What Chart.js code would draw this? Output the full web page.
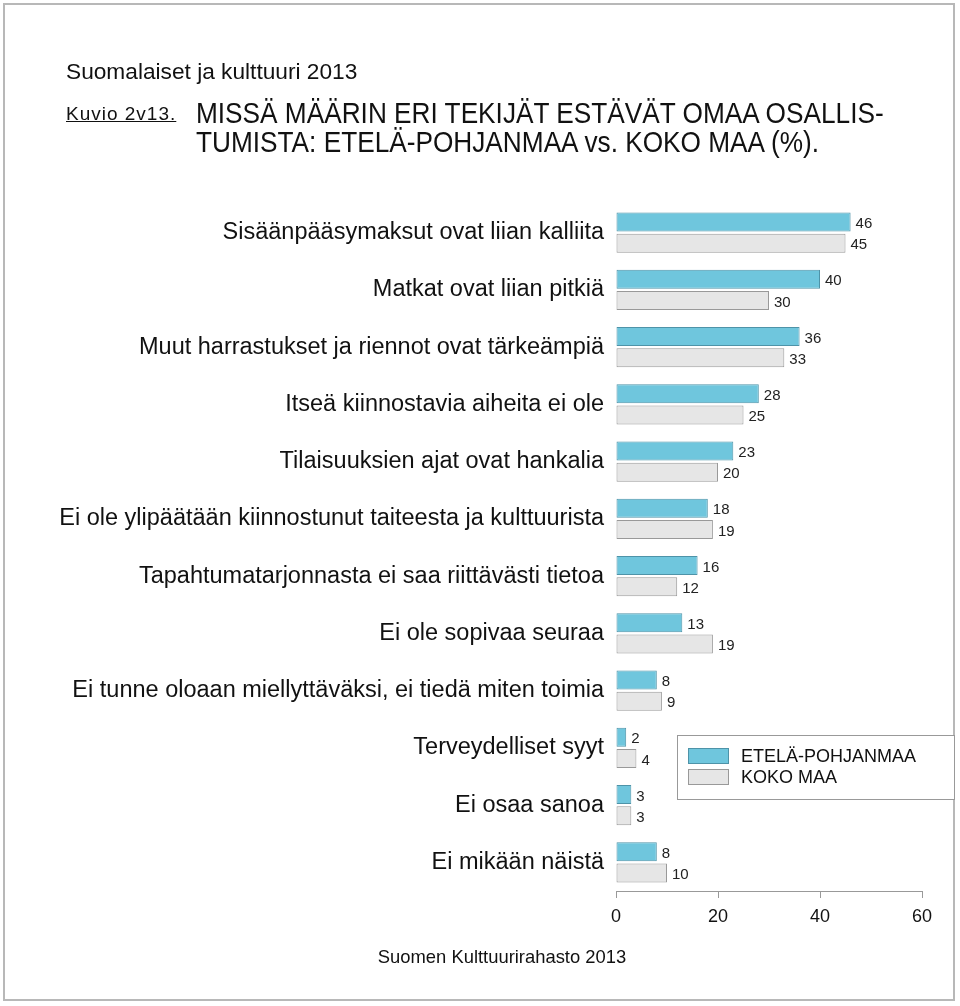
<!DOCTYPE html>
<html>
<head>
<meta charset="utf-8">
<script src="https://cdn.jsdelivr.net/npm/chart.js@4"></script>
<style>
  html, body { margin: 0; padding: 0; background: #fff; }
  #wrap { position: relative; width: 960px; height: 1006px; overflow: hidden; }
  #frame { position: absolute; left: 3px; top: 3px; width: 952px; height: 998px; border: 2px solid #b8b8b8; box-sizing: border-box; }
  canvas { position: absolute; left: 0; top: 0; }
  .t { position: absolute; font-family: "Liberation Sans", Arial, sans-serif; color: #111; white-space: nowrap; transform-origin: 0 0; }
  #sub { left: 66px; top: 58px; font-size: 22.7px; }
  #kuvio { left: 66px; top: 103px; font-size: 19px; letter-spacing: 1px; text-decoration: underline; }
  #title { left: 196px; top: 99px; font-size: 29px; line-height: 28.5px; transform: scaleX(0.904); }
  #source { left: 0; width: 1004px; text-align: center; top: 946px; font-size: 18.4px; }
  #legend { position: absolute; left: 677px; top: 735px; width: 278px; height: 65px; border: 1px solid #999; box-sizing: border-box; background: #fff;
            font-family: "Liberation Sans", Arial, sans-serif; font-size: 18px; color: #111; }
  .li { position: absolute; left: 10px; height: 16px; line-height: 16px; }
  .sw { display: inline-block; width: 41px; height: 16px; vertical-align: top; margin-right: 12px; box-sizing: border-box; }
</style>
</head>
<body>
<div id="wrap">
  <canvas id="chart" width="960" height="1006"></canvas>
  <div id="frame"></div>
  <div class="t" id="sub">Suomalaiset ja kulttuuri 2013</div>
  <div class="t" id="kuvio">Kuvio 2v13.</div>
  <div class="t" id="title">MISSÄ MÄÄRIN ERI TEKIJÄT ESTÄVÄT OMAA OSALLIS-<br>TUMISTA: ETELÄ-POHJANMAA vs. KOKO MAA (%).</div>
  <div class="t" id="source">Suomen Kulttuurirahasto 2013</div>
  <div id="legend">
    <div class="li" style="top:12px"><span class="sw" style="background:#6fc6dd;border:1px solid #4e93a8"></span>ETELÄ-POHJANMAA</div>
    <div class="li" style="top:33px"><span class="sw" style="background:#e6e6e6;border:1px solid #999"></span>KOKO MAA</div>
  </div>
</div>
<script>
const categories = [
    "Sisäänpääsymaksut ovat liian kalliita",
    "Matkat ovat liian pitkiä",
    "Muut harrastukset ja riennot ovat tärkeämpiä",
    "Itseä kiinnostavia aiheita ei ole",
    "Tilaisuuksien ajat ovat hankalia",
    "Ei ole ylipäätään kiinnostunut taiteesta ja kulttuurista",
    "Tapahtumatarjonnasta ei saa riittävästi tietoa",
    "Ei ole sopivaa seuraa",
    "Ei tunne oloaan miellyttäväksi, ei tiedä miten toimia",
    "Terveydelliset syyt",
    "Ei osaa sanoa",
    "Ei mikään näistä",
];
const etelaPohjanmaa = [46, 40, 36, 28, 23, 18, 16, 13, 8, 2, 3, 8];
const kokoMaa = [45, 30, 33, 25, 20, 19, 12, 19, 9, 4, 3, 10];
const xTicks = [0, 20, 40, 60];

const labelFont = '"Liberation Sans", Arial, sans-serif';

// value labels to the right of each bar
const valueLabels = {
    id: "valueLabels",
    afterDatasetsDraw(chart) {
        const ctx = chart.ctx;
        ctx.save();
        ctx.font = "15px " + labelFont;
        ctx.fillStyle = "#222";
        ctx.textAlign = "left";
        ctx.textBaseline = "middle";
        chart.data.datasets.forEach((ds, i) => {
            chart.getDatasetMeta(i).data.forEach((bar, j) => {
                ctx.fillText(String(ds.data[j]), bar.x + 5, bar.y + 2);
            });
        });
        ctx.restore();
    },
};

const chart = new Chart(document.getElementById("chart"), {
    type: "bar",
    data: {
        labels: categories,
        datasets: [
            {
                label: "ETELÄ-POHJANMAA",
                data: etelaPohjanmaa,
                backgroundColor: "#6fc6dd",
                borderColor: "#4e93a8",
                borderWidth: 1,
                borderSkipped: false,
                categoryPercentage: 0.74,
                barPercentage: 0.9,
            },
            {
                label: "KOKO MAA",
                data: kokoMaa,
                backgroundColor: "#e6e6e6",
                borderColor: "#999999",
                borderWidth: 1,
                borderSkipped: false,
                categoryPercentage: 0.74,
                barPercentage: 0.9,
            },
        ],
    },
    options: {
        indexAxis: "y",
        responsive: false,
        animation: false,
        layout: { padding: { left: 0, right: 38, top: 204, bottom: 75 } },
        plugins: { legend: { display: false }, tooltip: { enabled: false } },
        scales: {
            y: {
                grid: { display: false },
                border: { display: false },
                ticks: { color: "#111", padding: 4, font: { family: labelFont, size: 23.5 } },
                afterFit(scale) { scale.width = 616; },
            },
            x: {
                min: 0,
                max: 60,
                afterBuildTicks(scale) { scale.ticks = xTicks.map(v => ({ value: v })); },
                grid: { drawOnChartArea: false, drawTicks: true, tickLength: 7, color: "#999" },
                border: { display: true, color: "#999", width: 1 },
                ticks: { color: "#111", padding: 8, font: { family: labelFont, size: 18 } },
                afterFit(scale) { scale.height = 40; },
            },
        },
    },
    plugins: [valueLabels],
});
</script>
</body>
</html>
